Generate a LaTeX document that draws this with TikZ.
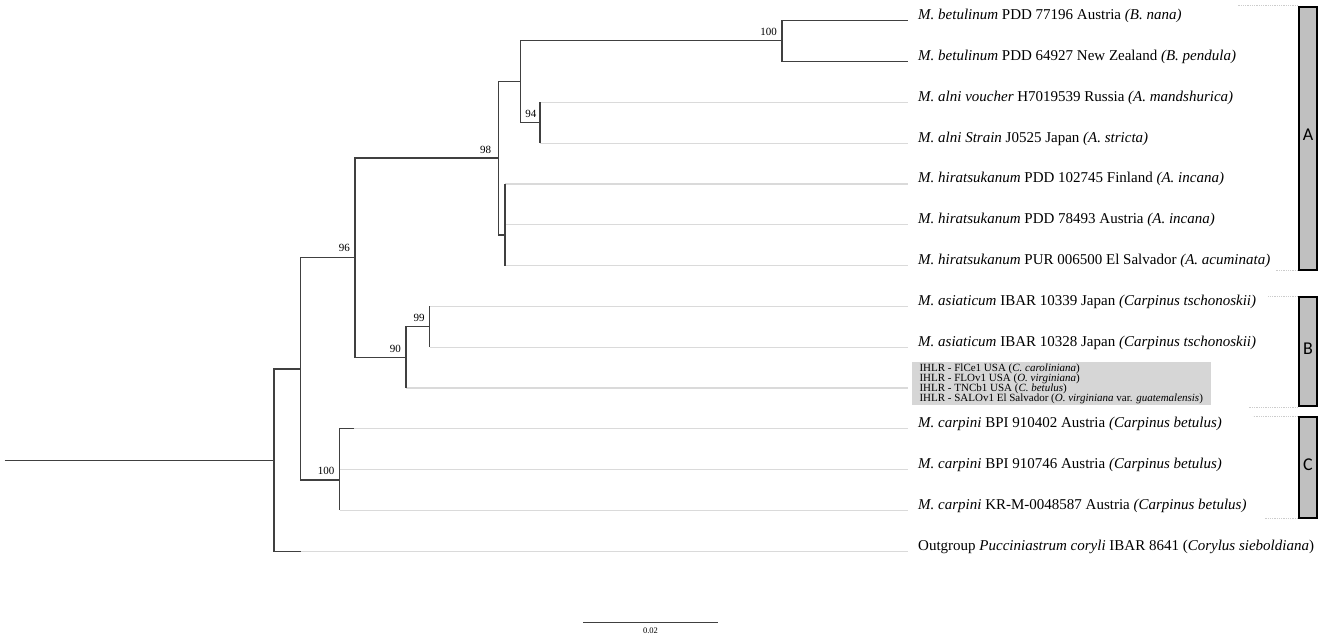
\documentclass[tikz,border=0pt]{standalone}
\usepackage{fontspec}
\setmainfont{Liberation Serif}
\newfontfamily\cladefont{Carlito}
\usepackage{tikz}
\usetikzlibrary{positioning}
\definecolor{branchgray}{HTML}{404040}
\definecolor{tipgray}{HTML}{DADADA}
\definecolor{boxgray}{HTML}{D6D6D6}
\definecolor{bargray}{HTML}{C0C0C0}

\begin{document}
\begin{tikzpicture}[x=1pt,y=-1pt,
  br/.style={draw=branchgray,line width=1.1pt},
  ext/.style={draw=tipgray,line width=1.2pt},
  lab/.style={anchor=base west,inner sep=0pt,xshift=10pt,yshift=1pt,font=\fontsize{15}{18}\selectfont},
  boot/.style={anchor=south east,inner sep=0pt,xshift=-5pt,yshift=4.5pt,font=\fontsize{11}{12}\selectfont},
  clade/.style={draw=black,fill=bargray,line width=2pt,minimum width=18.6pt,inner sep=0pt,text depth=6pt,font=\cladefont\fontsize{18}{20}\selectfont},
  guide/.style={draw=gray!40,densely dotted,line width=0.8pt}]
\useasboundingbox (0,0) rectangle (1325,638);

\coordinate (base) at (4.6,460.3);
\coordinate (r) at (274,460.3);
\coordinate (n1) at (300.5,369);
\coordinate (n96) at (355,257.7);
\coordinate (n98) at (498.3,158);
\coordinate (nAB) at (520.6,81.7);
\coordinate (nBet) at (782,40.7);
\coordinate (n94) at (540,122.3);
\coordinate (nH) at (505,235);
\coordinate (n90) at (406,357.3);
\coordinate (n99) at (429.7,326.7);
\coordinate (nC) at (339.6,480);
\coordinate (c11) at (354,428.7);
\coordinate (o14) at (300.5,551.1);
\foreach \i in {1,...,14}
  \coordinate (e\i) at (908,{20.7+40.8*(\i-1)});

\foreach \p/\t in {n94/e3,n94/e4,nH/e5,nH/e6,nH/e7,n99/e8,n99/e9,n90/e10,nC/e11,nC/e12,nC/e13,r/e14}
  \draw[ext] (\p |- \t) -- (\t);

\draw[br] (base) -- (r);
\draw[br] (r) |- (n1);
\draw[br] (r) |- (o14);
\draw[br] (n1) |- (n96);
\draw[br] (n1) |- (nC);
\draw[br] (n96) |- (n98);
\draw[br] (n96) |- (n90);
\draw[br] (n98) |- (nAB);
\draw[br] (n98) |- (nH);
\draw[br] (nAB) |- (nBet);
\draw[br] (nAB) |- (n94);
\draw[br] (nBet) |- (e1);
\draw[br] (nBet) |- (e2);
\draw[br] (n94 |- e3) -- (n94 |- e4);
\draw[br] (nH |- e5) -- (nH |- e7);
\draw[br] (n90) |- (n99);
\draw[br] (n90) -- (n90 |- e10);
\draw[br] (n99 |- e8) -- (n99 |- e9);
\draw[br] (nC) |- (c11);
\draw[br] (nC) -- (nC |- e13);

\node[boot] (b100a) at (nBet) {100};
\node[boot,xshift=1.5pt] (b94) at (n94) {94};
\node[boot,xshift=-2pt] (b98) at (n98) {98};
\node[boot,yshift=1.5pt] (b96) at (n96) {96};
\node[boot] (b99) at (n99) {99};
\node[boot] (b90) at (n90) {90};
\node[boot,yshift=1pt] (b100b) at (nC) {100};

\node[lab] (t1) at (e1) {\textit{M. betulinum} PDD 77196 Austria \textit{(B. nana)}};
\node[lab] (t2) at (e2) {\textit{M. betulinum} PDD 64927 New Zealand \textit{(B. pendula)}};
\node[lab] (t3) at (e3) {\textit{M. alni voucher} H7019539 Russia \textit{(A. mandshurica)}};
\node[lab] (t4) at (e4) {\textit{M. alni Strain} J0525 Japan \textit{(A. stricta)}};
\node[lab] (t5) at (e5) {\textit{M. hiratsukanum} PDD 102745 Finland \textit{(A. incana)}};
\node[lab] (t6) at (e6) {\textit{M. hiratsukanum} PDD 78493 Austria \textit{(A. incana)}};
\node[lab] (t7) at (e7) {\textit{M. hiratsukanum} PUR 006500 El Salvador \textit{(A. acuminata)}};
\node[lab] (t8) at (e8) {\textit{M. asiaticum} IBAR 10339 Japan \textit{(Carpinus tschonoskii)}};
\node[lab] (t9) at (e9) {\textit{M. asiaticum} IBAR 10328 Japan \textit{(Carpinus tschonoskii)}};
\node[anchor=west,fill=boxgray,inner xsep=7.6pt,inner ysep=0pt,minimum width=298.3pt,minimum height=42.7pt,align=left,xshift=3.7pt,yshift=4.2pt,font=\fontsize{11}{10}\selectfont] (t10) at (e10)
  {IHLR - FlCe1 USA (\textit{C. caroliniana})\\
   IHLR - FLOv1 USA (\textit{O. virginiana})\\
   IHLR - TNCb1 USA (\textit{C. betulus})\\
   IHLR - SALOv1 El Salvador (\textit{O. virginiana} var. \textit{guatemalensis})};
\node[lab] (t11) at (e11) {\textit{M. carpini} BPI 910402 Austria \textit{(Carpinus betulus)}};
\node[lab] (t12) at (e12) {\textit{M. carpini} BPI 910746 Austria \textit{(Carpinus betulus)}};
\node[lab] (t13) at (e13) {\textit{M. carpini} KR-M-0048587 Austria \textit{(Carpinus betulus)}};
\node[lab] (t14) at (e14) {Outgroup \textit{Pucciniastrum coryli} IBAR 8641 (\textit{Corylus sieboldiana})};

\node[clade,minimum height=263pt] (A) at (1308,138.2) {A};
\node[clade,minimum height=109.3pt] (B) at (1308,351.65) {B};
\node[clade,minimum height=100.7pt] (C) at (1308,467.35) {C};
\draw[guide] (A.north west) -- ++(-61,0);
\draw[guide] (A.south west) -- ++(-22,0);
\draw[guide] (B.north west) -- ++(-30,0);
\draw[guide] (B.south west) -- ++(-49,0);
\draw[guide] (C.north west) -- ++(-45,0);
\draw[guide] (C.south west) -- ++(-34,0);

\coordinate (s1) at (583,622.3);
\coordinate (s2) at (718,622.3);
\draw[br] (s1) -- node[below=5pt,inner sep=0pt,font=\fontsize{8.5}{10}\selectfont] (sl) {0.02} (s2);
\end{tikzpicture}
\end{document}
